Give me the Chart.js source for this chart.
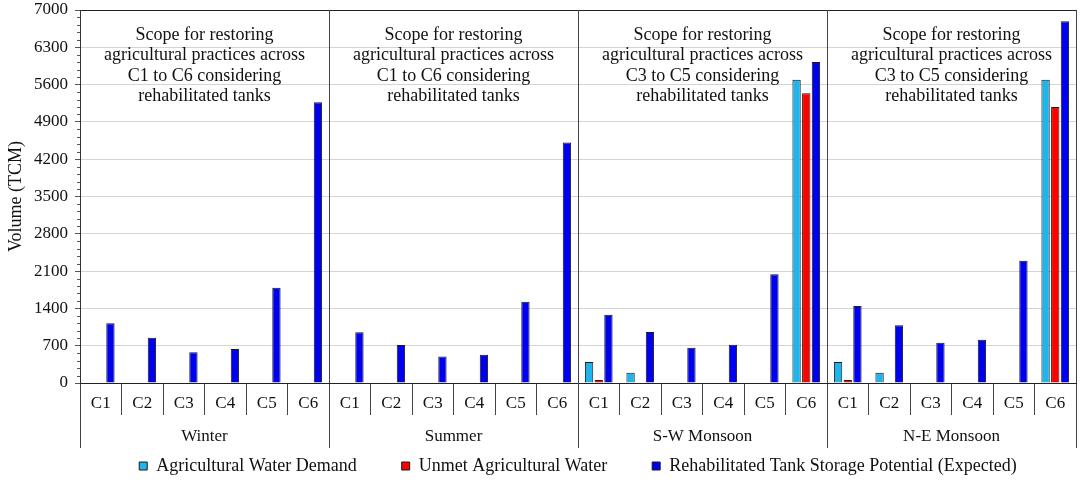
<!DOCTYPE html>
<html>
<head>
<meta charset="utf-8">
<script src="https://cdn.jsdelivr.net/npm/chart.js@4.4.1/dist/chart.umd.min.js"></script>
<style>
  html, body { margin: 0; padding: 0; background: #fff; }
  #wrap { width: 1084px; height: 490px; }
</style>
</head>
<body>
<div id="wrap"><canvas id="myChart"></canvas></div>
<script>
const seasons = ['Winter', 'Summer', 'S-W Monsoon', 'N-E Monsoon'];
const cats = ['C1', 'C2', 'C3', 'C4', 'C5', 'C6'];

// values in TCM, one row of 6 per season
const demand = [
	[null, null, null, null, null, null],
	[null, null, null, null, null, null],
	[394, 193, null, null, null, 5690],
	[394, 193, null, null, null, 5690],
];
const unmet = [
	[null, null, null, null, null, null],
	[null, null, null, null, null, null],
	[56, null, null, null, null, 5440],
	[56, null, null, null, null, 5180],
];
const storage = [
	[1120, 850, 576, 638, 1788, 5270],
	[951, 713, 495, 532, 1526, 4513],
	[1282, 957, 663, 719, 2040, 6024],
	[1445, 1083, 756, 813, 2295, 6790],
];
const yTicks = [0, 700, 1400, 2100, 2800, 3500, 4200, 4900, 5600, 6300, 7000];

const notes = [
	['Scope for restoring', 'agricultural practices across', 'C1 to C6 considering', 'rehabilitated tanks'],
	['Scope for restoring', 'agricultural practices across', 'C1 to C6 considering', 'rehabilitated tanks'],
	['Scope for restoring', 'agricultural practices across', 'C3 to C5 considering', 'rehabilitated tanks'],
	['Scope for restoring', 'agricultural practices across', 'C3 to C5 considering', 'rehabilitated tanks'],
];

const serif = "'Liberation Serif', 'DejaVu Serif', serif";

const labels = [];
seasons.forEach(s => cats.forEach(c => labels.push(c)));

// scope notes + minor ticks on the value axis
const extras = {
	id: 'extras',
	afterDraw(chart) {
		const c = chart.ctx;
		const x2 = chart.scales.x2;
		const y = chart.scales.y;
		c.save();
		c.fillStyle = '#111';
		c.font = '18px ' + serif;
		c.textAlign = 'center';
		c.textBaseline = 'middle';
		notes.forEach((lines, i) => {
			const cx = x2.getPixelForValue(i);
			lines.forEach((t, j) => c.fillText(t, cx, 35 + j * 20.5));
		});
		c.strokeStyle = '#555';
		c.lineWidth = 1;
		c.beginPath();
		for (let v = 0; v < 7000; v += 140) {
			if (v % 700 === 0) continue;
			const py = Math.round(y.getPixelForValue(v)) + 0.5;
			c.moveTo(y.right - 3, py);
			c.lineTo(y.right, py);
		}
		c.stroke();
		c.restore();
	}
};

const ctx = document.getElementById('myChart');

new Chart(ctx, {
	type: 'bar',
	data: {
		labels: labels,
		datasets: [{
			label: 'Agricultural Water Demand',
			data: demand.flat(),
			backgroundColor: '#1fb4ea',
			borderColor: '#1a1a1a',
			borderWidth: 1,
		}, {
			label: 'Unmet Agricultural Water',
			data: unmet.flat(),
			backgroundColor: '#ff0000',
			borderColor: '#1a1a1a',
			borderWidth: 1,
		}, {
			label: 'Rehabilitated Tank Storage Potential (Expected)',
			data: storage.flat(),
			backgroundColor: '#0000f0',
			borderColor: '#1a1a1a',
			borderWidth: 1,
		}]
	},
	options: {
		responsive: true,
		maintainAspectRatio: false,
		animation: false,
		datasets: {
			bar: { categoryPercentage: 0.7, barPercentage: 0.86 }
		},
		layout: { padding: { left: 0, right: 8, top: 10, bottom: 5 } },
		scales: {
			y: {
				min: 0,
				max: 7000,
				afterBuildTicks: axis => { axis.ticks = yTicks.map(v => ({ value: v })); },
				afterFit: axis => {
					axis.width = 80;
					axis.paddingTop = 0;
					axis.paddingBottom = 0;
				},
				border: { color: '#333', width: 1 },
				grid: {
					color: c => c.tick && c.tick.value === 7000 ? '#222' : '#d4d4d4',
					tickColor: '#555',
					tickLength: 5,
				},
				ticks: {
					color: '#111',
					padding: 7,
					font: { family: serif, size: 17 },
					callback: v => String(v),
				},
				title: {
					display: true,
					text: 'Volume (TCM)',
					color: '#111',
					font: { family: serif, size: 18 },
					padding: { top: 5, bottom: 2 },
				},
			},
			x: {
				position: 'bottom',
				weight: 0,
				afterFit: axis => { axis.height = 32; },
				border: { color: '#222', width: 1 },
				grid: {
					offset: true,
					drawOnChartArea: false,
					color: '#444',
					tickLength: 32,
				},
				ticks: {
					color: '#111',
					padding: -22,
					autoSkip: false,
					maxRotation: 0,
					font: { family: serif, size: 17 },
				},
			},
			x2: {
				type: 'category',
				labels: seasons,
				position: 'bottom',
				weight: 1,
				afterFit: axis => { axis.height = 33; },
				border: { display: false },
				grid: {
					offset: true,
					drawOnChartArea: true,
					color: '#444',
					tickLength: 33,
				},
				ticks: {
					color: '#111',
					padding: -22,
					maxRotation: 0,
					font: { family: serif, size: 17 },
				},
			},
		},
		plugins: {
			legend: {
				position: 'bottom',
				fullSize: false,
				labels: {
					color: '#111',
					boxWidth: 8,
					boxHeight: 8,
					padding: 9,
					font: { family: serif, size: 18 },
					generateLabels: chart => {
						const items = Chart.defaults.plugins.legend.labels.generateLabels(chart);
						items.forEach((it, i) => {
							it.lineWidth = 1;
							it.strokeStyle = '#1a1a1a';
							if (i < items.length - 1) it.text = it.text + '\u2003\u2003';
						});
						return items;
					},
				},
			},
			tooltip: { enabled: false },
		},
	},
	plugins: [extras],
});
</script>
</body>
</html>
